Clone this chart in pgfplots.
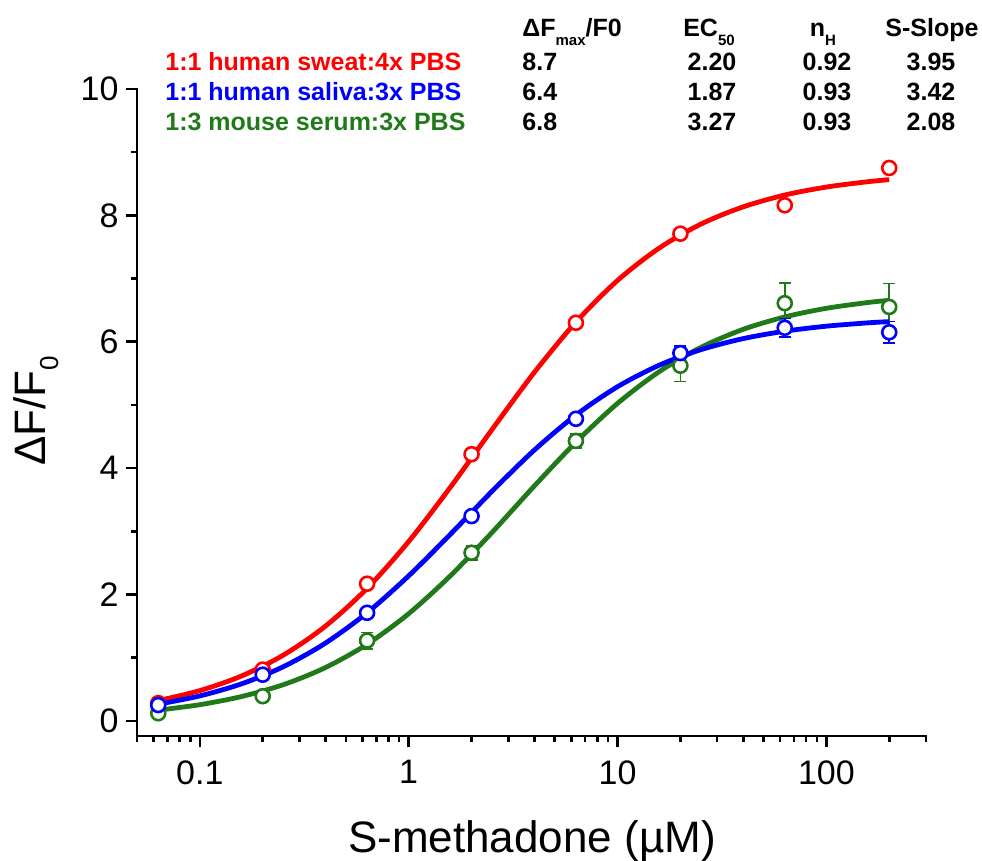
\documentclass[border=0pt]{standalone}
\usepackage{fontspec}
\setmainfont{Liberation Sans}
\usepackage{pgfplots}
\pgfplotsset{compat=1.18}
\definecolor{cred}{RGB}{255,0,0}
\definecolor{cblue}{RGB}{0,0,255}
\definecolor{cgreen}{RGB}{33,122,26}
\newcommand{\sub}[1]{\raisebox{-0.35em}{\fontsize{7.5}{8}\selectfont #1}}
\begin{document}
\begin{tikzpicture}
\path[use as bounding box] (0,0) rectangle (491pt,430.5pt);
\begin{axis}[
 at={(68.5pt,62.5pt)}, anchor=south west,
 width=394.5pt, height=323.5pt, scale only axis,
 xmode=log, xmin=0.05, xmax=300, ymin=-0.24, ymax=10,
 axis lines*=left,
 axis line style={line width=1.3pt, line cap=rect},
 xtick={0.1,1,10,100}, xticklabels={0.1,1,10,100},
 minor xtick={0.05,0.06,0.07,0.08,0.09,0.2,0.3,0.4,0.5,0.6,0.7,0.8,0.9,2,3,4,5,6,7,8,9,20,30,40,50,60,70,80,90,200,300},
 ytick={0,2,4,6,8,10}, minor ytick={1,3,5,7,9},
 tick align=outside,
 major tick length=5.75pt, minor tick length=3pt,
 every tick/.style={black, line width=1.3pt},
 tick label style={font=\fontsize{17}{20}\selectfont},
 /pgf/number format/assume math mode=true,
 xticklabel style={yshift=-3pt},
 clip=false,
]
% red
\addplot[cred, line width=2.4pt, smooth, no marks] coordinates {
(0.0631,0.3194) (0.1,0.4785) (0.1585,0.7102) (0.2512,1.0404) (0.3981,1.4951) (0.6310,2.0939) (1,2.8385) (1.585,3.699) (2.512,4.615) (3.981,5.508) (6.310,6.308) (10,6.970) (15.85,7.483) (25.12,7.863) (39.81,8.133) (63.10,8.321) (100,8.448) (158.5,8.533) (200,8.565)};
\addplot[cred, only marks, mark=*, mark size=3.5pt, mark options={fill=white, line width=1.3pt},
 error bars/.cd, y dir=both, y explicit, error bar style={line width=0.8pt}, error mark options={rotate=90, mark size=3pt, line width=0.8pt}]
 coordinates {(0.0632,0.28) +- (0,0.03) (0.2,0.81) +- (0,0.03) (0.632,2.17) +- (0,0.05) (2,4.22) +- (0,0.05) (6.32,6.30) +- (0,0.05) (20,7.71) +- (0,0.05) (63.2,8.16) +- (0,0.06) (200,8.75) +- (0,0.06)};
% green
\addplot[cgreen, line width=2.4pt, smooth, no marks] coordinates {
(0.0631,0.1687) (0.1,0.2554) (0.1585,0.3844) (0.2512,0.5724) (0.3981,0.8407) (0.6310,1.2104) (1,1.696) (1.585,2.297) (2.512,2.985) (3.981,3.711) (6.310,4.408) (10,5.024) (15.85,5.527) (25.12,5.912) (39.81,6.194) (63.10,6.392) (100,6.529) (158.5,6.621) (200,6.655)};
\addplot[cgreen, only marks, mark=*, mark size=3.5pt, mark options={fill=white, line width=1.3pt},
 error bars/.cd, y dir=both, y explicit, error bar style={line width=0.8pt}, error mark options={rotate=90, mark size=3pt, line width=0.8pt}]
 coordinates {(0.0632,0.12) +- (0,0.03) (0.2,0.39) +- (0,0.04) (0.632,1.27) +- (0,0.13) (2,2.66) +- (0,0.11) (6.32,4.43) +- (0,0.11) (20,5.62) +- (0,0.25) (63.2,6.61) +- (0,0.32) (200,6.55) +- (0,0.37)};
% blue
\addplot[cblue, line width=2.4pt, smooth, no marks] coordinates {
(0.0631,0.2626) (0.1,0.3943) (0.1585,0.5857) (0.2512,0.8569) (0.3981,1.2272) (0.6310,1.708) (1,2.295) (1.585,2.954) (2.512,3.636) (3.981,4.280) (6.310,4.838) (10,5.288) (15.85,5.629) (25.12,5.875) (39.81,6.048) (63.10,6.166) (100,6.246) (158.5,6.299) (200,6.318)};
\addplot[cblue, only marks, mark=*, mark size=3.5pt, mark options={fill=white, line width=1.3pt},
 error bars/.cd, y dir=both, y explicit, error bar style={line width=0.8pt}, error mark options={rotate=90, mark size=3pt, line width=0.8pt}]
 coordinates {(0.0632,0.25) +- (0,0.03) (0.2,0.73) +- (0,0.04) (0.632,1.71) +- (0,0.05) (2,3.24) +- (0,0.06) (6.32,4.78) +- (0,0.06) (20,5.82) +- (0,0.11) (63.2,6.22) +- (0,0.15) (200,6.15) +- (0,0.17)};
\end{axis}
% axis labels
\node[anchor=base, font=\fontsize{22}{26}\selectfont] at (266pt,4pt) {S-methadone (µM)};
\node[rotate=90, anchor=base, font=\fontsize{22}{26}\selectfont] at (22.5pt,225pt) {ΔF/F\raisebox{-0.3em}{\fontsize{13}{13}\selectfont 0}};
% legend text
\begin{scope}[every node/.style={font=\bfseries\fontsize{12.5}{14}\selectfont, inner sep=0pt}]
\node[anchor=base west, text=cred] at (82.5pt,395pt) {1:1 human sweat:4x PBS};
\node[anchor=base west, text=cblue] at (82.5pt,380pt) {1:1 human saliva:3x PBS};
\node[anchor=base west, text=cgreen] at (82.5pt,365pt) {1:3 mouse serum:3x PBS};
% header
\node[anchor=base west] at (261pt,412pt) {ΔF\sub{max}/F0};
\node[anchor=base] at (354.5pt,412pt) {EC\sub{50}};
\node[anchor=base] at (411.5pt,412pt) {n\sub{H}};
\node[anchor=base] at (466pt,412pt) {S-Slope};
% values
\node[anchor=base west] at (261pt,395pt) {8.7};
\node[anchor=base west] at (261pt,380pt) {6.4};
\node[anchor=base west] at (261pt,365pt) {6.8};
\node[anchor=base] at (356pt,395pt) {2.20};
\node[anchor=base] at (356pt,380pt) {1.87};
\node[anchor=base] at (356pt,365pt) {3.27};
\node[anchor=base] at (413.5pt,395pt) {0.92};
\node[anchor=base] at (413.5pt,380pt) {0.93};
\node[anchor=base] at (413.5pt,365pt) {0.93};
\node[anchor=base] at (465.5pt,395pt) {3.95};
\node[anchor=base] at (465.5pt,380pt) {3.42};
\node[anchor=base] at (465.5pt,365pt) {2.08};
\end{scope}
\end{tikzpicture}
\end{document}
